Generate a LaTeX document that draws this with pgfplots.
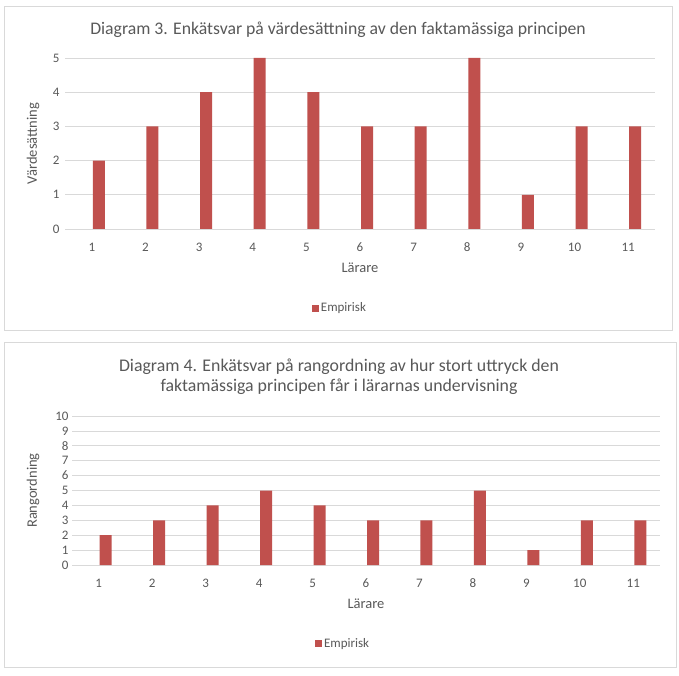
\documentclass[border=0pt]{standalone}
\usepackage{pgfplots}
\pgfplotsset{compat=1.18}
\usepackage{fontspec}
\setmainfont{Carlito}
\definecolor{barred}{HTML}{C0504D}
\definecolor{txt}{HTML}{595959}
\definecolor{gridc}{HTML}{D9D9D9}
\pgfplotsset{
  mybar/.style={
    scale only axis,
    ybar, bar width=12pt, bar shift=7pt,
    xmin=0.5, xmax=11.5,
    xtick={1,...,11},
    ymin=0,
    axis line style={draw=none},
    axis x line*=bottom,
    x axis line style={draw=gridc},
    tick style={draw=none},
    ymajorgrids, grid style={gridc, line width=0.8pt},
    ticklabel style={font=\fontsize{13}{13}\selectfont, text=txt},
    /pgf/number format/assume math mode=true,
    label style={font=\fontsize{14.5}{15}\selectfont, text=txt},
    legend style={draw=none, fill=none, font=\fontsize{13}{13}\selectfont, text=txt, anchor=center},
    legend image code/.code={\fill[barred] (0pt,-3.5pt) rectangle (7pt,3.5pt);},
  }
}
\begin{document}
\begin{tikzpicture}
\useasboundingbox (0pt,0pt) rectangle (679pt,675pt);
\fill[white] (0pt,0pt) rectangle (679pt,675pt);
% boxes
\draw[gridc, line width=0.8pt] (4pt,345pt) rectangle (672pt,669pt);
\draw[gridc, line width=0.8pt] (4pt,8pt) rectangle (676pt,333pt);
% Chart 1
\node[text=txt, font=\fontsize{17.7}{19}\selectfont] at (338pt,645pt) {Diagram 3. Enkätsvar på värdesättning av den faktamässiga principen};
\begin{axis}[mybar,
  at={(65pt,446pt)}, anchor=south west,
  width=590pt, height=171pt,
  ymax=5, ytick={0,...,5},
  xlabel={Lärare}, ylabel={Värdesättning},
  xlabel style={at={(axis description cs:0.5,0)}, anchor=center, yshift=-39pt},
  ylabel style={at={(axis description cs:-0.054,0.5)}, anchor=center},
  legend style={at={(axis description cs:0.466,-0.462)}},
  yticklabel style={xshift=-2pt},
  xticklabel style={yshift=-6pt},
]
\addplot[fill=barred, draw=none] coordinates {(1,2) (2,3) (3,4) (4,5) (5,4) (6,3) (7,3) (8,5) (9,1) (10,3) (11,3)};
\addlegendentry{Empirisk}
\end{axis}
% Chart 2
\node[text=txt, font=\fontsize{17.8}{19}\selectfont, align=center] at (339pt,298.5pt) {Diagram 4. Enkätsvar på rangordning av hur stort uttryck den\\[1pt]faktamässiga principen får i lärarnas undervisning};
\begin{axis}[mybar,
  at={(72pt,110pt)}, anchor=south west,
  width=588pt, height=149pt,
  ymax=10, ytick={0,...,10},
  xlabel={Lärare}, ylabel={Rangordning},
  xlabel style={at={(axis description cs:0.5,0)}, anchor=center, yshift=-39pt},
  ylabel style={at={(axis description cs:-0.066,0.5)}, anchor=center},
  legend style={at={(axis description cs:0.461,-0.53)}},
  yticklabel style={xshift=0pt},
  xticklabel style={yshift=-6pt},
]
\addplot[fill=barred, draw=none] coordinates {(1,2) (2,3) (3,4) (4,5) (5,4) (6,3) (7,3) (8,5) (9,1) (10,3) (11,3)};
\addlegendentry{Empirisk}
\end{axis}
\end{tikzpicture}
\end{document}
